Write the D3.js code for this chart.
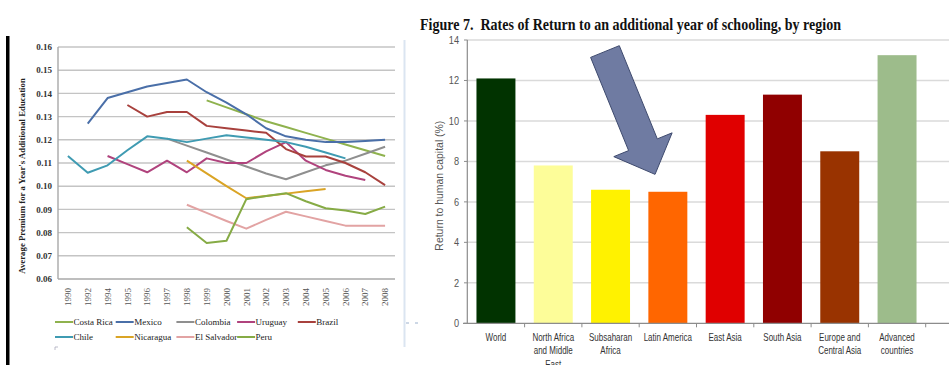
<!DOCTYPE html>
<html>
<head>
<meta charset="utf-8">
<script src="https://cdn.jsdelivr.net/npm/d3@7"></script>
<style>
  body { margin: 0; background: #fff; }
  svg { display: block; }
  text { white-space: pre; }
</style>
</head>
<body>
<svg id="chart" width="949" height="365"></svg>
<script>
// ---- left chart data (premium per year of schooling) ----
const years = ['1990', '1992', '1994', '1995', '1996', '1997', '1998', '1999', '2000',
    '2001', '2002', '2003', '2004', '2005', '2006', '2007', '2008'];
const premiumTicks = [0.06, 0.07, 0.08, 0.09, 0.10, 0.11, 0.12, 0.13, 0.14, 0.15, 0.16];

const costaRica = [null, null, null, null, null, null, null, 0.137, 0.134, 0.131, 0.128, 0.1255, 0.123, 0.1205, 0.118, 0.1155, 0.113];
const mexico = [null, 0.127, 0.138, 0.1405, 0.143, 0.1445, 0.146, 0.1405, 0.136, 0.131, 0.125, 0.1215, 0.120, 0.119, 0.119, 0.1195, 0.120];
const colombia = [null, null, null, null, null, 0.1205, 0.1175, 0.1145, 0.1115, 0.1085, 0.1055, 0.103, 0.106, 0.109, 0.111, 0.114, 0.117];
const uruguay = [null, null, 0.113, 0.1095, 0.106, 0.111, 0.106, 0.112, 0.110, 0.110, 0.115, 0.119, 0.111, 0.107, 0.1045, 0.1027, null];
const brazil = [null, null, null, 0.135, 0.130, 0.132, 0.132, 0.126, 0.125, 0.124, 0.123, 0.116, 0.1128, 0.1128, 0.110, 0.106, 0.1005];
const chile = [0.113, 0.1058, 0.109, 0.1155, 0.1215, 0.1205, 0.119, 0.1205, 0.122, 0.121, 0.120, 0.119, 0.117, 0.1145, 0.112, null, null];
const nicaragua = [null, null, null, null, null, null, 0.111, 0.1055, 0.100, 0.0948, 0.0958, 0.0968, 0.0978, 0.0988, null, null, null];
const elSalvador = [null, null, null, null, null, null, 0.092, 0.0885, 0.085, 0.0817, 0.0855, 0.089, 0.087, 0.085, 0.083, 0.083, 0.083];
const peru = [null, null, null, null, null, null, 0.0823, 0.0755, 0.0765, 0.0944, 0.0958, 0.097, 0.0935, 0.0905, 0.0895, 0.088, 0.0912];

const countries = ['Costa Rica', 'Mexico', 'Colombia', 'Uruguay', 'Brazil', 'Chile', 'Nicaragua', 'El Salvador', 'Peru'];
const countryValues = [costaRica, mexico, colombia, uruguay, brazil, chile, nicaragua, elSalvador, peru];

// ---- right chart data (rates of return by region) ----
const regions = ['World', 'North Africa\nand Middle\nEast', 'Subsaharan\nAfrica', 'Latin America',
    'East Asia', 'South Asia', 'Europe and\nCentral Asia', 'Advanced\ncountries'];
const returnRates = [12.1, 7.8, 6.6, 6.5, 10.3, 11.3, 8.5, 13.25];
const returnTicks = [0, 2, 4, 6, 8, 10, 12, 14];

// styles
const countryColors = ['#8fb24e', '#4a6fa8', '#8f8f8f', '#b0437d', '#a8413d', '#3f9bb2', '#daa425', '#e2a3a3', '#86ab45'];
const regionColors = ['#013300', '#fdfd99', '#fff200', '#ff6600', '#e00000', '#900000', '#993300', '#9dbc8b'];
const serif = '"Liberation Serif", "Times New Roman", serif';
const sans = '"Liberation Sans", Arial, sans-serif';
const squeeze = 0.8; // fake arial narrow

const svg = d3.select('#chart');
svg.append('rect').attr('width', 949).attr('height', 365).attr('fill', '#fff');

drawLeft();
drawRight();

function drawLeft() {
    const g = svg.append('g').attr('id', 'left');
    const x = d3.scaleBand().domain(years).range([58, 395]);
    const y = d3.scaleLinear().domain([0.06, 0.16]).range([279, 47]);
    const cx = (yr) => x(yr) + x.bandwidth() / 2;

    // frame pieces from the screenshot
    g.append('rect').attr('x', 6).attr('y', 36).attr('width', 3.5).attr('height', 329).attr('fill', '#000');
    g.append('line').attr('x1', 404.5).attr('x2', 404.5).attr('y1', 40).attr('y2', 347)
        .attr('stroke', '#dbe5f1').attr('stroke-width', 2);
    g.append('line').attr('x1', 406).attr('x2', 420).attr('y1', 323).attr('y2', 323)
        .attr('stroke', '#9bb0cc').attr('stroke-width', 1).attr('stroke-dasharray', '3,6');

    // grid
    g.append('g')
        .selectAll('line')
        .data(premiumTicks)
        .join('line')
        .attr('x1', 58).attr('x2', 395)
        .attr('y1', (d) => y(d)).attr('y2', (d) => y(d))
        .attr('stroke', (d) => (d === 0.06 ? '#a8a8a8' : '#c4c4c4'))
        .attr('stroke-width', 1.4);
    g.append('line').attr('x1', 58).attr('x2', 58).attr('y1', y(0.16)).attr('y2', y(0.06))
        .attr('stroke', '#a8a8a8').attr('stroke-width', 1.4);

    g.append('g')
        .selectAll('text')
        .data(premiumTicks)
        .join('text')
        .attr('x', 52).attr('y', (d) => y(d) + 3.2)
        .attr('text-anchor', 'end')
        .attr('font-family', serif).attr('font-size', 9).attr('font-weight', 'bold')
        .attr('fill', '#333')
        .text((d) => d3.format('.2f')(d));

    g.append('g')
        .selectAll('text')
        .data(years)
        .join('text')
        .attr('transform', (d) => `translate(${cx(d) + 3.2},288) rotate(-90)`)
        .attr('text-anchor', 'end')
        .attr('font-family', serif).attr('font-size', 9)
        .attr('fill', '#555')
        .text((d) => d);

    g.append('text')
        .attr('transform', `translate(25,${(y(0.16) + y(0.06)) / 2 + 13}) rotate(-90)`)
        .attr('text-anchor', 'middle')
        .attr('font-family', serif).attr('font-size', 8.8).attr('font-weight', 'bold')
        .attr('fill', '#222')
        .text("Average Premium for a Year's Additional Education");

    const line = d3.line()
        .defined((d) => d.v != null)
        .x((d) => cx(d.year))
        .y((d) => y(d.v));

    g.append('g')
        .selectAll('path')
        .data(countryValues)
        .join('path')
        .attr('d', (vals) => line(vals.map((v, i) => ({ year: years[i], v: v }))))
        .attr('fill', 'none')
        .attr('stroke', (d, i) => countryColors[i])
        .attr('stroke-width', 2)
        .attr('stroke-linejoin', 'round');

    // legend, 5 columns
    const legend = g.append('g')
        .selectAll('g')
        .data(countries)
        .join('g')
        .attr('transform', (d, i) => `translate(${55 + (i % 5) * 60.7},${i < 5 ? 322 : 337})`);
    legend.append('line')
        .attr('x1', 0).attr('x2', 18)
        .attr('stroke', (d, i) => countryColors[i])
        .attr('stroke-width', 2);
    legend.append('text')
        .attr('x', 18.5).attr('y', 3.2)
        .attr('font-family', serif).attr('font-size', 9)
        .attr('fill', '#222')
        .text((d) => d);

    g.append('path').attr('d', 'M55,350 V347 H58').attr('fill', 'none').attr('stroke', '#aab').attr('stroke-width', 0.8);
}

function drawRight() {
    const g = svg.append('g').attr('id', 'right');
    const x = d3.scaleBand().domain(regions).range([467.3, 925.7]).paddingInner(0.32).paddingOuter(0.16);
    const y = d3.scaleLinear().domain([0, 14]).range([323.3, 40]);
    const step = x.step();

    g.append('text')
        .attr('x', 420).attr('y', 30)
        .attr('font-family', serif).attr('font-size', 17.5).attr('font-weight', 'bold')
        .attr('fill', '#111')
        .attr('textLength', 421).attr('lengthAdjust', 'spacingAndGlyphs')
        .text('Figure 7.  Rates of Return to an additional year of schooling, by region');

    g.append('g')
        .selectAll('line')
        .data(returnTicks.filter((d) => d > 0))
        .join('line')
        .attr('x1', 467).attr('x2', 949)
        .attr('y1', (d) => y(d)).attr('y2', (d) => y(d))
        .attr('stroke', '#dadada').attr('stroke-width', 1.5);

    g.append('g')
        .selectAll('rect')
        .data(returnRates)
        .join('rect')
        .attr('x', (d, i) => x(regions[i]))
        .attr('width', x.bandwidth())
        .attr('y', (d) => y(d))
        .attr('height', (d) => y(0) - y(d))
        .attr('fill', (d, i) => regionColors[i]);

    // axes
    g.append('line').attr('x1', 467.3).attr('x2', 467.3).attr('y1', y(14)).attr('y2', y(0))
        .attr('stroke', '#8c8c8c').attr('stroke-width', 1.2);
    g.append('line').attr('x1', 463).attr('x2', 949).attr('y1', y(0)).attr('y2', y(0))
        .attr('stroke', '#8c8c8c').attr('stroke-width', 1.2);
    g.append('g')
        .selectAll('line')
        .data(returnTicks)
        .join('line')
        .attr('x1', 464).attr('x2', 467.3)
        .attr('y1', (d) => y(d)).attr('y2', (d) => y(d))
        .attr('stroke', '#8c8c8c');
    g.append('g')
        .selectAll('line')
        .data(d3.range(1, regions.length + 1))
        .join('line')
        .attr('x1', (k) => 467.3 + k * step).attr('x2', (k) => 467.3 + k * step)
        .attr('y1', y(0)).attr('y2', y(0) + 4)
        .attr('stroke', '#8c8c8c');

    g.append('g')
        .selectAll('text')
        .data(returnTicks)
        .join('text')
        .attr('transform', (d) => `translate(459,${y(d) + 4}) scale(${squeeze},1)`)
        .attr('text-anchor', 'end')
        .attr('font-family', sans).attr('font-size', 11.5)
        .attr('fill', '#555')
        .text((d) => d);

    g.append('text')
        .attr('transform', `translate(443,${(y(14) + y(0)) / 2 + 4}) rotate(-90) scale(0.95,1)`)
        .attr('text-anchor', 'middle')
        .attr('font-family', sans).attr('font-size', 11)
        .attr('fill', '#555')
        .text('Return to human capital (%)');

    const labels = g.append('g')
        .selectAll('text')
        .data(regions)
        .join('text')
        .attr('transform', (d) => `translate(${x(d) + x.bandwidth() / 2},341) scale(${squeeze},1)`)
        .attr('text-anchor', 'middle')
        .attr('font-family', sans).attr('font-size', 10)
        .attr('fill', '#333');
    labels.selectAll('tspan')
        .data((d) => d.split('\n'))
        .join('tspan')
        .attr('x', 0)
        .attr('dy', (d, i) => (i === 0 ? 0 : 13.3))
        .text((d) => d);

    // block arrow pointing at Latin America
    const bx = (cat, dx) => x(cat) + x.bandwidth() / 2 + dx;
    const tail = [bx('Subsaharan\nAfrica', -5.6), y(13.43)];
    const tip = [bx('Latin America', -12.8), y(7.36)];
    const shaftW = 31, headW = 63, headL = 32;
    const len = Math.hypot(tip[0] - tail[0], tip[1] - tail[1]);
    const u = [(tip[0] - tail[0]) / len, (tip[1] - tail[1]) / len];
    const n = [u[1], -u[0]];
    const base = [tip[0] - u[0] * headL, tip[1] - u[1] * headL];
    const off = (p, s) => [p[0] + n[0] * s, p[1] + n[1] * s];
    const arrowPts = [
        off(tail, -shaftW / 2), off(tail, shaftW / 2), off(base, shaftW / 2),
        off(base, headW / 2), tip, off(base, -headW / 2), off(base, -shaftW / 2),
    ];
    g.append('path')
        .attr('d', d3.line()(arrowPts) + 'Z')
        .attr('fill', '#6f7ba2')
        .attr('stroke', '#3e4a6e')
        .attr('stroke-width', 1)
        .attr('stroke-linejoin', 'miter');
}
</script>
</body>
</html>
